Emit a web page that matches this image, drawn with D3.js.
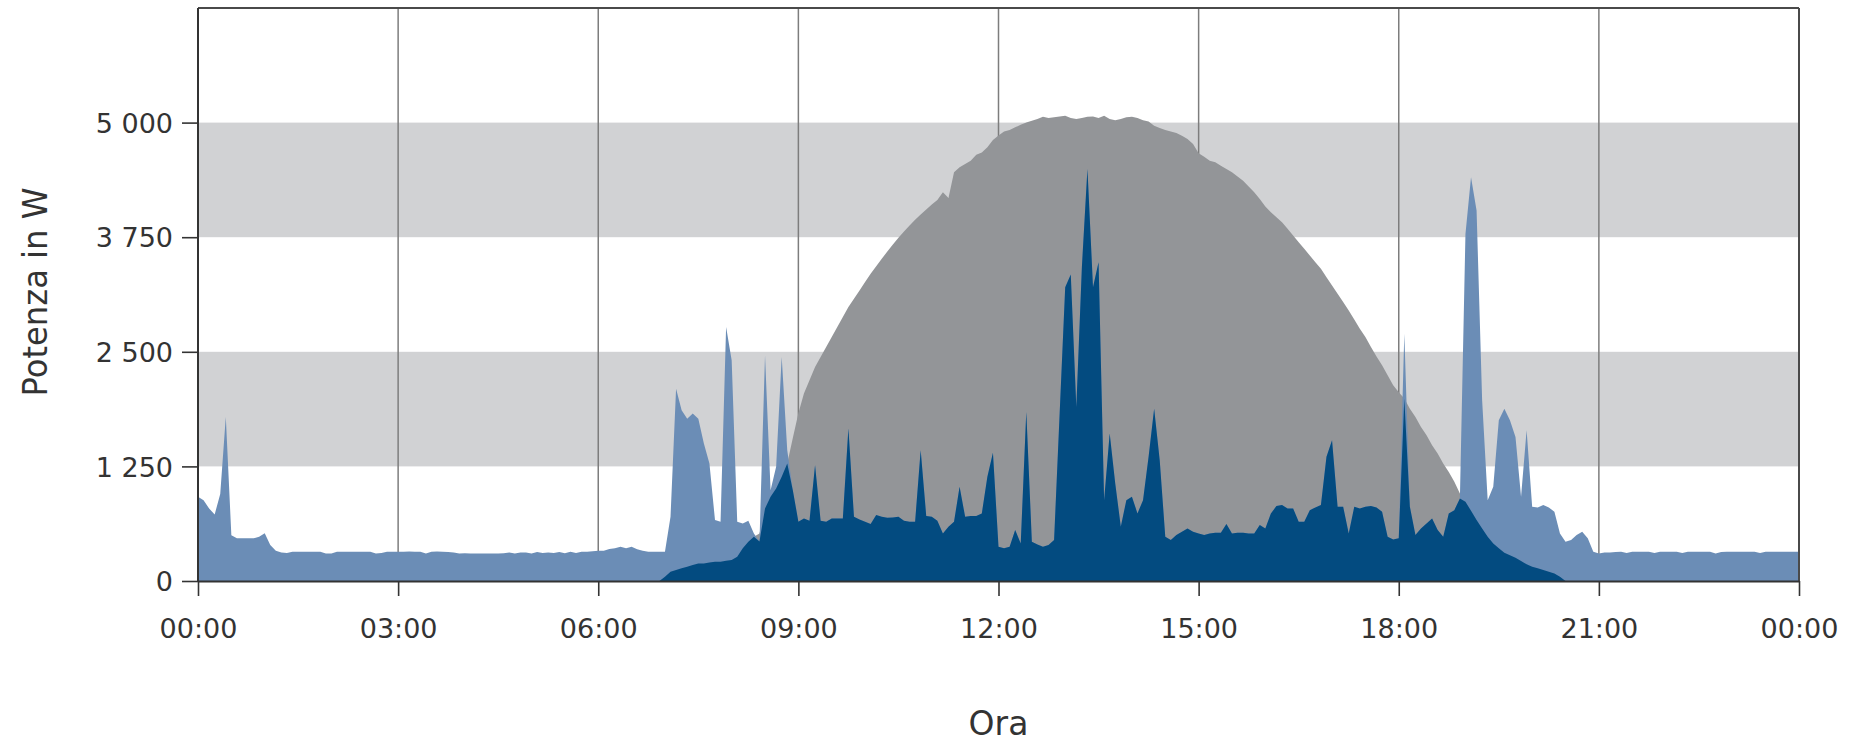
<!DOCTYPE html>
<html>
<head>
<meta charset="utf-8">
<script src="https://cdn.jsdelivr.net/npm/d3@7"></script>
<style>
  body { margin: 0; background: #ffffff; }
  text { font-family: "DejaVu Sans", sans-serif; fill: #333333; }
</style>
</head>
<body>
<svg id="chart" width="1858" height="745"></svg>
<script>
// ---- Data (5-minute samples, 00:00 .. 24:00) ----
const sampleMinutes = 5;

// PV production (grey), W
const pvValues = [
  // 00:00 - 06:55
  0,0,0,0,0,0,0,0,0,0,0,0,
  0,0,0,0,0,0,0,0,0,0,0,0,
  0,0,0,0,0,0,0,0,0,0,0,0,
  0,0,0,0,0,0,0,0,0,0,0,0,
  0,0,0,0,0,0,0,0,0,0,0,0,
  0,0,0,0,0,0,0,0,0,0,0,0,
  0,0,0,0,0,0,0,0,0,0,0,0,
  // 07:00
  47,102,120,138,156,174,192,192,203,210,210,221,
  // 08:00
  229,265,356,428,483,519,791,918,1009,1136,1281,1560,
  // 09:00
  1830,2044,2189,2334,2443,2552,2661,2770,2879,2988,3078,3169,
  // 10:00
  3260,3350,3434,3514,3594,3670,3743,3812,3877,3939,3997,4051,
  // 11:00
  4106,4156,4240,4178,4458,4512,4548,4585,4650,4675,4730,4810,
  // 12:00
  4860,4904,4918,4948,4977,5002,5020,5038,5064,5049,5057,5067,
  // 13:00
  5075,5049,5038,5049,5064,5067,5049,5075,5038,5027,5038,5057,
  // 14:00
  5064,5049,5027,5013,4966,4940,4918,4904,4886,4857,4820,4766,
  // 15:00
  4665,4628,4585,4567,4530,4494,4458,4411,4367,4302,4240,4167,
  // 16:00
  4084,4022,3968,3913,3841,3768,3695,3623,3550,3478,3405,3314,
  // 17:00
  3223,3133,3042,2951,2853,2752,2661,2552,2450,2352,2243,2134,
  // 18:00
  2060,1990,1880,1790,1680,1590,1480,1390,1281,1190,1082,955,
  // 19:00
  864,766,664,574,483,410,356,309,280,254,218,182,
  // 20:00
  156,138,120,102,83,47,0,0,0,0,0,0,
  // 21:00 - 23:55
  0,0,0,0,0,0,0,0,0,0,0,0,
  0,0,0,0,0,0,0,0,0,0,0,0,
  0,0,0,0,0,0,0,0,0,0,0,0,
  // 24:00
  0
];

// Household consumption (light blue), W
const loadValues = [
  // 00:00
  918,882,791,726,950,1790,500,465,465,465,465,483,
  // 01:00
  520,392,330,312,305,318,320,320,320,320,318,300,
  // 02:00
  300,318,320,320,320,320,320,318,300,305,318,320,
  // 03:00
  320,318,322,318,320,300,318,322,320,315,312,300,
  // 04:00
  302,300,300,300,300,300,300,302,310,300,310,312,
  // 05:00
  300,315,305,312,305,315,302,318,305,318,320,325,
  // 06:00
  330,330,348,356,374,356,374,345,330,320,320,320,
  // 07:00
  320,700,2098,1862,1771,1826,1771,1500,1281,664,646,2770,
  // 08:00
  2407,646,628,657,519,430,2461,991,1245,2443,1427,991,
  // 09:00
  646,682,657,1263,657,646,682,682,682,1663,700,671,
  // 10:00
  646,621,719,700,690,693,700,657,646,646,1427,708,
  // 11:00
  700,657,519,592,646,1027,700,708,708,737,1136,1398,
  // 12:00
  374,356,374,555,410,1844,428,399,374,392,446,1826,
  // 13:00
  3205,3343,1898,3423,4494,3205,3478,882,1608,1064,592,882,
  // 14:00
  918,737,882,1354,1880,1318,483,446,501,537,574,537,
  // 15:00
  519,501,519,526,526,621,519,526,526,519,519,610,
  // 16:00
  574,737,817,828,791,791,646,646,773,802,828,1354,
  // 17:00
  1535,810,810,519,810,791,810,817,802,755,483,454,
  // 18:00
  465,2697,810,501,574,628,682,555,483,737,773,900,
  // 19:00
  3786,4403,4040,1971,882,1027,1753,1880,1753,1572,918,1644,
  // 20:00
  810,802,828,802,755,519,428,446,501,537,465,320,
  // 21:00
  301,310,312,315,318,305,318,318,318,318,305,318,
  // 22:00
  318,318,320,305,318,320,320,320,320,300,315,320,
  // 23:00
  320,320,320,320,320,305,318,320,320,320,320,320,
  // 24:00
  320
];

const yTickValues = [0, 1250, 2500, 3750, 5000];
const bandRanges = [[1250, 2500], [3750, 5000]];
const xTickHours = [0, 3, 6, 9, 12, 15, 18, 21, 24];
const xTickLabels = ["00:00","03:00","06:00","09:00","12:00","15:00","18:00","21:00","00:00"];
const yTitle = "Potenza in W";
const xTitle = "Ora";

// ---- Build table ----
const rows = pvValues.map((pv, i) => ({
  h: i * sampleMinutes / 60,
  pv: pv,
  load: loadValues[i],
  self: Math.min(pv, loadValues[i])   // self-consumed part = overlap of both areas
}));

// ---- Layout ----
const svg = d3.select("#chart");
const L = 198, R = 1799, T = 8, B = 581;

const x = d3.scaleLinear().domain([0, 24]).range([L, R]);
const y = d3.scaleLinear().domain([0, 6250]).range([B, T]);

const fmt = d3.formatLocale({decimal: ",", thousands: " ", grouping: [3], currency: ["", ""]}).format(",d");

// bands
svg.append("g").selectAll("rect").data(bandRanges).join("rect")
  .attr("x", L).attr("width", R - L)
  .attr("y", d => y(d[1])).attr("height", d => y(d[0]) - y(d[1]))
  .attr("fill", "#d1d2d4");

// vertical grid
svg.append("g").selectAll("line").data(xTickHours.filter(h => h > 0 && h < 24)).join("line")
  .attr("x1", d => x(d)).attr("x2", d => x(d))
  .attr("y1", T).attr("y2", B)
  .attr("stroke", "#7d7d7d").attr("stroke-width", 1.5);

const area = key => d3.area()
  .x(d => x(d.h)).y0(y(0)).y1(d => y(d[key]))
  .curve(d3.curveLinear);

svg.append("path").datum(rows).attr("d", area("pv")).attr("fill", "#939598");
svg.append("path").datum(rows).attr("d", area("load")).attr("fill", "#6b8db6");
svg.append("path").datum(rows).attr("d", area("self")).attr("fill", "#034b80");

// frame top & right
svg.append("line").attr("x1", L).attr("x2", R).attr("y1", T).attr("y2", T)
  .attr("stroke", "#4a4a4a").attr("stroke-width", 2);
svg.append("line").attr("x1", R).attr("x2", R).attr("y1", T).attr("y2", B)
  .attr("stroke", "#4a4a4a").attr("stroke-width", 2);

// y axis
const gy = svg.append("g").attr("transform", `translate(${L},0)`)
  .call(d3.axisLeft(y).tickValues(yTickValues).tickSize(16).tickSizeOuter(0).tickFormat(fmt));
gy.select(".domain").attr("stroke", "#333").attr("stroke-width", 2).attr("d", `M0,${T}V${B}`);
gy.selectAll(".tick line").attr("stroke", "#333").attr("stroke-width", 1.6);
gy.selectAll(".tick text").attr("x", -25).attr("dy", "0.36em")
  .style("font-size", "27px").attr("fill", "#333");

// x axis
const gx = svg.append("g").attr("transform", `translate(0,${B})`)
  .call(d3.axisBottom(x).tickValues(xTickHours).tickSize(15).tickSizeOuter(0)
    .tickFormat((d, i) => xTickLabels[i]));
gx.select(".domain").attr("stroke", "#333").attr("stroke-width", 2);
gx.selectAll(".tick line").attr("stroke", "#333").attr("stroke-width", 1.6);
gx.selectAll(".tick text").attr("y", 57).attr("dy", 0)
  .style("font-size", "27px").attr("fill", "#333");

// titles
svg.append("text").attr("transform", "translate(47,292) rotate(-90)")
  .attr("text-anchor", "middle").style("font-size", "34px")
  .attr("textLength", 209).attr("lengthAdjust", "spacingAndGlyphs")
  .text(yTitle);
svg.append("text").attr("x", (L + R) / 2).attr("y", 735)
  .attr("text-anchor", "middle").style("font-size", "33px")
  .text(xTitle);
</script>
</body>
</html>
